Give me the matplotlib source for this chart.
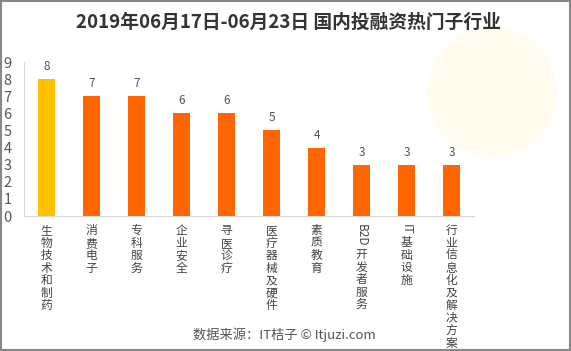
import re
import matplotlib.pyplot as plt
import matplotlib.patches as patches

plt.rcParams['font.family'] = ['Noto Sans CJK SC', 'DejaVu Sans']

categories = ['生物技术和制药', '消费电子', '专科服务', '企业安全', '寻医诊疗',
              '医疗器械及硬件', '素质教育', 'B2D开发者服务', 'IT基础设施', '行业信息化及解决方案']
values = [8, 7, 7, 6, 6, 5, 4, 3, 3, 3]
colors = ['#FFC000'] + ['#FF6600'] * 9

fig = plt.figure(figsize=(5.71, 3.51), dpi=100)

# faint orange watermark (ellipse sized so it looks round in pixels)
fig.patches.append(patches.Ellipse((492 / 571, 1 - 92 / 351), 130 / 571, 130 / 351,
                                   transform=fig.transFigure, facecolor='#FFFBEE',
                                   edgecolor='none', zorder=0))
fig.patches.append(patches.Rectangle((0.002, 0.003), 0.996, 0.994, transform=fig.transFigure,
                                     fill=False, edgecolor='#888888', linewidth=1.5))

ax = fig.add_axes([24 / 571, 1 - 216 / 351, 450 / 571, 154 / 351])
ax.patch.set_alpha(0)

x = list(range(len(categories)))
ax.bar(x, values, width=0.38, color=colors, zorder=2)
for xi, v in zip(x, values):
    ax.text(xi, v + 0.35, str(v), ha='center', va='bottom', fontsize=8.5, color='#555555')

ax.set_xlim(-0.5, len(categories) - 0.5)
ax.set_ylim(0, 9)
ax.set_yticks(range(10))
ax.tick_params(axis='y', length=0, labelsize=10.5, labelcolor='#555555', pad=9)
ax.set_xticks(x)
ax.set_xticklabels([])
ax.tick_params(axis='x', length=0)

# vertical labels: CJK upright, latin runs rotated
renderer = fig.canvas.get_renderer()
px2pt = 72 / fig.dpi
for xi, cat in zip(x, categories):
    off = -6.0
    for seg in re.findall(r'[A-Za-z0-9]+|.', cat):
        latin = seg.isascii()
        t = ax.annotate(seg, (xi, 0), xycoords=('data', 'axes fraction'),
                        xytext=(0, off), textcoords='offset points',
                        rotation=-90 if latin else 0,
                        ha='center', va='top', fontsize=8.5, color='#444444')
        if latin:
            h = t.get_window_extent(renderer).height * px2pt
            off -= h + 1.0
        else:
            off -= 9.0

for s in ['top', 'right']:
    ax.spines[s].set_visible(False)
ax.spines['left'].set_color('#D9D9D9')
ax.spines['bottom'].set_color('#D9D9D9')

fig.text(0.505, 1 - 22 / 351, '2019年06月17日-06月23日 国内投融资热门子行业', ha='center', va='center',
         fontsize=13.5, fontweight='bold', color='#333333')
fig.text(284 / 571, 1 - 335 / 351, '数据来源：IT桔子 © Itjuzi.com', ha='center', va='center',
         fontsize=9.5, color='#555555')

fig.savefig('out.png', dpi=100)
